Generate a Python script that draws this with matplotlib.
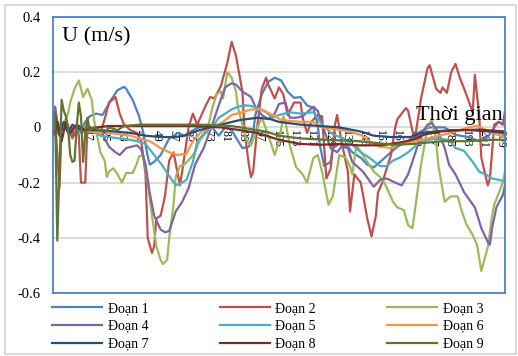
import matplotlib.pyplot as plt
from matplotlib.patches import Rectangle

# Vận tốc U (m/s) theo thời gian cho 9 đoạn
t1 = [1, 2, 4, 7, 10, 14, 16, 18, 21, 24, 28, 31, 34, 35, 38, 41, 43, 45, 46, 48,
      51, 53, 55, 59, 62, 66, 69, 73, 75, 78, 81, 84, 87, 89, 92, 94, 95, 98, 101, 104,
      107, 110, 113, 116, 119, 122, 124, 125, 127, 130, 131, 134, 138, 140, 144, 147, 150, 153, 158, 161,
      166, 169, 173, 176, 183, 188, 194, 199, 203, 206, 208, 211]
u1 = [0.0, 0.02, -0.01, 0.0, -0.02, -0.01, 0.02, 0.04, 0.05, 0.045, 0.10, 0.135, 0.147, 0.14, 0.10, 0.04, -0.02, -0.105, -0.135, -0.125,
      -0.10, -0.07, -0.04, -0.02, -0.03, -0.01, 0.0, 0.01, 0.0, -0.03, 0.0, -0.01, -0.05, -0.075, -0.07, -0.02, 0.045, 0.12, 0.165, 0.18,
      0.17, 0.13, 0.107, 0.11, 0.08, 0.07, 0.01, -0.065, -0.14, -0.125, -0.075, -0.06, -0.07, -0.09, -0.11, -0.135, -0.145, -0.125, -0.09, -0.07,
      -0.05, -0.027, -0.01, 0.0, 0.0, -0.027, -0.035, -0.05, -0.035, 0.0, 0.02, 0.01]

t2 = [1, 2, 4, 5, 7, 9, 10, 12, 13, 14, 16, 17, 20, 23, 25, 27, 30, 32, 34, 37,
      40, 42, 44, 45, 47, 48, 49, 51, 53, 55, 57, 60, 61, 64, 66, 68, 72, 74, 76, 79,
      82, 84, 86, 89, 90, 92, 93, 94, 96, 98, 100, 101, 104, 106, 108, 110, 113, 116, 117, 119,
      121, 124, 126, 128, 130, 132, 133, 135, 138, 139, 141, 144, 147, 149, 151, 152, 154, 158, 160, 161,
      165, 166, 169, 172, 175, 176, 179, 181, 182, 184, 186, 188, 190, 193, 196, 197, 199, 200, 203, 204,
      206, 208, 210, 211]
u2 = [0.0, 0.03, -0.22, 0.0, 0.03, -0.02, -0.04, 0.0, -0.03, -0.2, -0.2, 0.01, -0.01, -0.02, 0.03, 0.09, 0.11, 0.05, 0.01, -0.01,
      -0.02, -0.05, -0.17, -0.40, -0.455, -0.43, -0.33, -0.32, -0.25, -0.12, -0.09, -0.21, -0.16, 0.0, 0.05, 0.01, 0.08, 0.11, 0.105, 0.15,
      0.235, 0.31, 0.26, 0.13, -0.015, -0.135, -0.18, -0.16, 0.01, 0.14, 0.18, 0.155, 0.105, 0.145, 0.12, 0.045, 0.09, 0.09, 0.035, -0.02,
      0.02, 0.045, 0.04, -0.185, -0.15, 0.01, 0.045, -0.05, -0.16, -0.305, -0.17, -0.2, -0.33, -0.395, -0.32, -0.235, -0.2, -0.1, 0.0, 0.03,
      0.07, 0.06, -0.05, 0.105, 0.215, 0.225, 0.14, 0.125, 0.145, 0.125, 0.2, 0.23, 0.18, 0.12, 0.055, 0.19, 0.045, -0.11, -0.21, -0.185,
      0.01, 0.02, 0.01, 0.06]

t3 = [1, 3, 4, 6, 8, 9, 11, 13, 15, 17, 19, 20, 21, 23, 25, 26, 27, 29, 31, 33,
      35, 38, 40, 41, 43, 45, 47, 49, 51, 52, 54, 55, 57, 58, 60, 62, 65, 67, 69, 72,
      73, 75, 77, 79, 80, 82, 84, 86, 87, 89, 91, 93, 96, 98, 101, 104, 106, 108, 109, 111,
      114, 117, 119, 122, 124, 126, 129, 131, 134, 137, 139, 140, 142, 145, 147, 150, 153, 155, 159, 161,
      164, 166, 168, 169, 172, 175, 177, 179, 180, 183, 185, 186, 189, 191, 193, 196, 198, 200, 203, 205,
      206, 210, 211]
u3 = [0.0, 0.02, -0.01, 0.01, 0.05, 0.09, 0.14, 0.17, 0.11, 0.14, 0.10, 0.03, -0.01, -0.09, -0.12, -0.18, -0.16, -0.148, -0.17, -0.2,
      -0.165, -0.165, -0.13, -0.105, -0.1, -0.2, -0.32, -0.43, -0.48, -0.495, -0.48, -0.4, -0.28, -0.18, -0.14, -0.135, -0.11, -0.09, -0.05, -0.02,
      0.0, 0.07, 0.12, 0.13, 0.105, 0.2, 0.18, 0.13, 0.07, 0.01, -0.05, -0.065, 0.0, 0.035, -0.027, -0.1, -0.05, 0.04, 0.02, -0.065,
      -0.145, -0.17, -0.2, -0.11, -0.1, -0.16, -0.28, -0.25, -0.1, -0.11, -0.14, -0.17, -0.065, -0.1, -0.125, -0.16, -0.18, -0.2, -0.27, -0.29,
      -0.3, -0.355, -0.365, -0.31, -0.135, 0.0, 0.03, -0.05, -0.135, -0.27, -0.255, -0.25, -0.25, -0.305, -0.35, -0.39, -0.425, -0.52, -0.435, -0.32,
      -0.28, -0.2, -0.16]

t4 = [1, 2, 3, 5, 8, 11, 14, 18, 21, 24, 27, 30, 32, 35, 40, 42, 44, 46, 48, 51,
      53, 55, 58, 61, 64, 67, 71, 75, 78, 81, 84, 86, 89, 93, 95, 98, 101, 104, 106, 109,
      111, 114, 117, 122, 124, 126, 130, 133, 135, 138, 140, 145, 150, 153, 156, 160, 163, 166, 169, 172,
      175, 177, 180, 183, 185, 188, 192, 197, 200, 203, 204, 205, 207, 210, 211]
u4 = [0.0, 0.075, 0.02, -0.01, 0.0, -0.02, 0.0, -0.01, -0.01, -0.025, -0.07, -0.09, -0.1, -0.075, -0.065, -0.08, -0.135, -0.24, -0.32, -0.37,
      -0.38, -0.375, -0.305, -0.27, -0.22, -0.135, -0.075, 0.01, 0.08, 0.145, 0.16, 0.155, 0.13, 0.11, 0.075, 0.045, 0.03, 0.05, 0.085, 0.09,
      0.035, 0.035, 0.04, 0.075, 0.06, 0.01, -0.075, -0.09, -0.07, -0.075, -0.125, -0.16, -0.215, -0.19, -0.185, -0.2, -0.21, -0.17, -0.1, -0.027,
      0.01, 0.015, -0.015, -0.075, -0.135, -0.17, -0.235, -0.29, -0.365, -0.415, -0.425, -0.365, -0.29, -0.245, -0.21]

t5 = [1, 2, 3, 5, 8, 11, 14, 18, 23, 27, 32, 37, 40, 44, 46, 49, 52, 54, 58, 61,
      63, 66, 68, 72, 75, 78, 81, 84, 87, 90, 93, 96, 100, 103, 106, 111, 116, 122, 126, 131,
      136, 139, 144, 148, 153, 156, 159, 162, 166, 169, 172, 179, 185, 188, 192, 196, 199, 202, 205, 208,
      211]
u5 = [0.0, 0.035, 0.0, 0.01, -0.01, 0.0, -0.02, -0.01, -0.03, -0.035, -0.04, -0.045, -0.05, -0.06, -0.08, -0.11, -0.14, -0.165, -0.21, -0.2,
      -0.19, -0.125, -0.05, -0.015, 0.0, 0.035, 0.05, 0.065, 0.075, 0.08, 0.078, 0.07, 0.055, 0.035, 0.045, 0.055, 0.05, 0.055, 0.01, -0.025,
      -0.04, -0.055, -0.09, -0.11, -0.14, -0.14, -0.12, -0.11, -0.09, -0.07, -0.05, -0.04, -0.045, -0.075, -0.085, -0.125, -0.16, -0.17, -0.185, -0.19,
      -0.195]

t6 = [1, 4, 9, 14, 18, 23, 27, 32, 37, 41, 46, 51, 55, 59, 63, 66, 70, 75, 80, 84,
      89, 93, 98, 103, 107, 116, 122, 126, 136, 144, 148, 153, 158, 162, 169, 175, 182, 188, 194, 198,
      201, 205, 211]
u6 = [0.0, 0.01, -0.01, 0.0, -0.015, -0.02, -0.02, -0.025, -0.03, -0.04, -0.05, -0.075, -0.09, -0.1, -0.095, -0.05, -0.015, 0.0, 0.02, 0.045,
      0.055, 0.065, 0.065, 0.045, 0.027, 0.02, 0.02, 0.0, -0.01, -0.027, -0.05, -0.07, -0.075, -0.06, -0.05, -0.04, -0.027, -0.015, 0.0, 0.005,
      -0.005, -0.02, -0.035]

t7 = [1, 2, 4, 6, 8, 10, 14, 18, 23, 30, 37, 44, 51, 58, 62, 69, 79, 88, 96, 102,
      106, 116, 125, 134, 144, 150, 158, 167, 172, 185, 195, 204, 211]
u7 = [0.0, 0.04, -0.03, 0.02, -0.02, 0.01, -0.01, -0.01, -0.01, -0.015, -0.02, -0.03, -0.035, -0.035, -0.03, -0.01, 0.01, 0.027, 0.035, 0.03,
      0.02, 0.01, 0.005, 0.0, -0.015, -0.03, -0.035, -0.035, -0.02, -0.01, -0.01, -0.015, -0.02]

t8 = [1, 2, 3, 5, 7, 9, 12, 16, 21, 27, 37, 51, 65, 79, 88, 96, 102, 106, 116, 125,
      134, 143, 153, 162, 168, 174, 181, 189, 199, 211]
u8 = [0.0, -0.03, 0.02, -0.05, 0.02, -0.02, 0.01, -0.01, 0.0, 0.005, 0.005, 0.005, 0.005, 0.0, -0.01, -0.02, -0.035, -0.045, -0.06, -0.063,
      -0.06, -0.065, -0.065, -0.055, -0.045, -0.025, -0.015, -0.01, -0.008, -0.015]

t9 = [1, 2, 3, 4, 5, 6, 7, 8, 9, 10, 11, 12, 13, 14, 15, 16, 17, 18, 20, 23,
      25, 27, 31, 34, 41, 53, 69, 84, 92, 100, 106, 116, 128, 143, 159, 168, 182, 193, 205, 211]
u9 = [0.0, 0.05, -0.41, -0.15, 0.1, 0.06, 0.04, 0.0, -0.1, -0.125, -0.12, 0.0, 0.09, 0.04, -0.125, -0.02, 0.035, -0.01, 0.0, -0.01,
      -0.02, 0.0, -0.01, 0.005, 0.01, 0.01, 0.01, 0.005, -0.005, -0.015, -0.03, -0.04, -0.045, -0.05, -0.063, -0.06, -0.05, -0.05, -0.045, -0.045]

names = ['Đoạn 1', 'Đoạn 2', 'Đoạn 3', 'Đoạn 4', 'Đoạn 5', 'Đoạn 6', 'Đoạn 7', 'Đoạn 8', 'Đoạn 9']
colors = ['#4F81BD', '#C0504D', '#9BBB59', '#8064A2', '#4BACC6', '#F79646', '#2C4D75', '#772C2A', '#5F7530']

x_ticks = [1, 9, 17, 25, 33, 41, 49, 57, 65, 73, 81, 89, 97, 105, 113, 121, 129, 137,
           145, 153, 161, 169, 177, 185, 193, 201, 209]
y_ticks = [-0.6, -0.4, -0.2, 0, 0.2, 0.4]
y_labels = ['-0.6', '-0.4', '-0.2', '0', '0.2', '0.4']

plt.rcParams['font.family'] = ['Liberation Serif', 'DejaVu Serif']

fig = plt.figure(figsize=(5.18, 3.56), dpi=100)
ax = fig.add_axes([53 / 518, 1 - 293 / 356, 452 / 518, 276 / 356])

series = [(t1, u1), (t2, u2), (t3, u3), (t4, u4), (t5, u5), (t6, u6), (t7, u7), (t8, u8), (t9, u9)]
for (t, u), name, c in zip(series, names, colors):
    ax.plot(t, u, color=c, lw=1.6, label=name, solid_joinstyle='round')

ax.set_xlim(1, 211)
ax.set_ylim(-0.6, 0.4)

# lưới ngang màu xám, khung vùng vẽ màu xanh
ax.set_yticks(y_ticks)
ax.set_yticklabels(y_labels, fontsize=10.5)
ax.yaxis.grid(True, color='#D9D9D9', lw=1.3)
ax.set_axisbelow(True)
for s in ax.spines.values():
    s.set_color('#4F81BD')
    s.set_linewidth(1.3)
ax.tick_params(axis='y', length=0, pad=9)

# nhãn trục thời gian nằm ngay dưới đường 0
ax.set_xticks(x_ticks)
ax.set_xticklabels([str(v) for v in x_ticks], rotation=-90, fontsize=8.5)
ax.tick_params(axis='x', length=0, pad=-117)

ax.text(0.02, 0.962, 'U (m/s)', transform=ax.transAxes, fontsize=16, va='top', ha='left')
ax.text(0.996, 0.027, 'Thời gian', transform=ax.get_yaxis_transform(), fontsize=16,
        va='baseline', ha='right')

# chú thích 3 cột, xếp theo hàng
h, l = ax.get_legend_handles_labels()
order = [0, 3, 6, 1, 4, 7, 2, 5, 8]
fig.legend([h[i] for i in order], [l[i] for i in order], loc='upper left',
           bbox_to_anchor=(52 / 518, 1 - 302 / 356), ncol=3, frameon=False, fontsize=10,
           handlelength=3.6, handletextpad=0.4, columnspacing=5.15, labelspacing=0.34,
           borderpad=0, borderaxespad=0)

fig.patches.append(Rectangle((5 / 518, 2 / 356), 511 / 518, 349 / 356, transform=fig.transFigure,
                             fill=False, ec='#D9D9D9', lw=1.5))

fig.savefig('out.png', dpi=100)
